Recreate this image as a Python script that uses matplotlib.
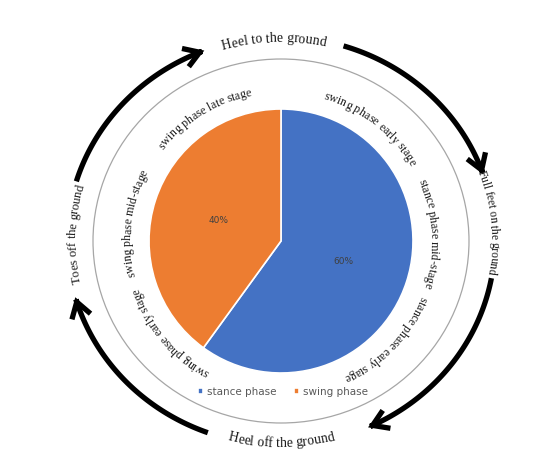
import matplotlib
matplotlib.use("Agg")
import matplotlib.pyplot as plt
import numpy as np
from matplotlib.font_manager import FontProperties, findfont
from matplotlib.ft2font import FT2Font
from matplotlib.patches import Ellipse, FancyArrowPatch
from matplotlib.path import Path

# pie data
phases = ["stance phase", "swing phase"]
shares = [60, 40]
colors = ["#4472C4", "#ED7D31"]

# inner ring labels (centre angle in degrees, text runs clockwise)
stage_labels = [
    "swing phase late stage",
    "swing phase early stage",
    "stance phase mid-stage",
    "stance phase early stage",
    "swing phase early stage",
    "swing phase mid-stage",
]
stage_angles = [121.5, 52, 3, -43.5, -140, 173]

# outer ring: gait events and the arrows between them
event_labels = [
    "Heel to the ground",
    "Full feet on the ground",
    "Heel off the ground",
    "Toes off the ground",
]
event_angles = [92, 5.5, -90, 178]
event_clockwise = [True, True, False, True]
event_sizes = [9.8, 8.4, 9.8, 9.1]
event_rx = [207, 210, 212, 205]
event_ry = [199, 199, 206, 199]
arrow_starts = [163, 73, -10.5, -110]
arrow_ends = [111, 19, -66, -164]

W, H = 554, 463
CX, CY = 281, 241
SERIF = "Liberation Serif"

fig = plt.figure(figsize=(W / 100, H / 100), dpi=100)
ax = fig.add_axes([0, 0, 1, 1])
ax.set_xlim(0, W)
ax.set_ylim(H, 0)
ax.axis("off")

pie_r = 132
pax = fig.add_axes([(CX - pie_r) / W, (H - CY - pie_r) / H, 2 * pie_r / W, 2 * pie_r / H])
wedges, _, autotexts = pax.pie(
    shares,
    colors=colors,
    startangle=90,
    counterclock=False,
    autopct="%d%%",
    pctdistance=0.5,
    wedgeprops=dict(edgecolor="white", linewidth=1.2),
    textprops=dict(fontsize=6.5, color="#404040", family="DejaVu Sans"),
)
pax.set_xlim(-1, 1)
pax.set_ylim(-1, 1)

ax.add_patch(Ellipse((CX, CY), 2 * 188, 2 * 182, fill=False, edgecolor="#a6a6a6", linewidth=0.9))

fig.legend(
    wedges,
    phases,
    loc="center",
    bbox_to_anchor=(283 / W, 1 - 392 / H),
    ncol=2,
    frameon=False,
    handlelength=0.55,
    handleheight=0.55,
    handletextpad=0.4,
    columnspacing=1.6,
    prop=dict(family="DejaVu Sans", size=7.5),
    labelcolor="#595959",
)

ft = FT2Font(findfont(FontProperties(family=SERIF)))


def advances(text, size):
    # glyph advance widths in pixels (figure is 100 dpi)
    ft.set_size(size, 100)
    return [ft.load_char(ord(c)).linearHoriAdvance / 65536 for c in text]


def curved_text(text, center_deg, rx, ry, size, clockwise=True):
    prop = FontProperties(family=SERIF, size=size)
    adv = advances(text, size)
    total = sum(adv)
    r_mean = (rx + ry) / 2
    sign = -1 if clockwise else 1
    pos = 0.0
    for ch, a in zip(text, adv):
        s = pos + a / 2 - total / 2
        pos += a
        if ch == " ":
            continue
        t = np.radians(center_deg) + sign * s / r_mean
        x = CX + rx * np.cos(t)
        y = CY - ry * np.sin(t)
        rot = np.degrees(t) - 90 if clockwise else np.degrees(t) + 90
        ax.text(x, y, ch, fontproperties=prop, rotation=rot, rotation_mode="anchor",
                ha="center", va="baseline", color="#1a1a1a")


for label, ang in zip(stage_labels, stage_angles):
    curved_text(label, ang, 150, 148, 8.6)

for i, label in enumerate(event_labels):
    curved_text(label, event_angles[i], event_rx[i], event_ry[i], event_sizes[i],
                clockwise=event_clockwise[i])

for a0, a1 in zip(arrow_starts, arrow_ends):
    t = np.radians(np.linspace(a0, a1, 80))
    verts = np.column_stack([CX + 214 * np.cos(t), CY - 204 * np.sin(t)])
    arrow = FancyArrowPatch(
        path=Path(verts),
        arrowstyle="->,head_length=11,head_width=7",
        mutation_scale=1,
        linewidth=3.8,
        color="black",
        joinstyle="miter",
        capstyle="butt",
    )
    ax.add_patch(arrow)

fig.savefig("out.png", dpi=100)
